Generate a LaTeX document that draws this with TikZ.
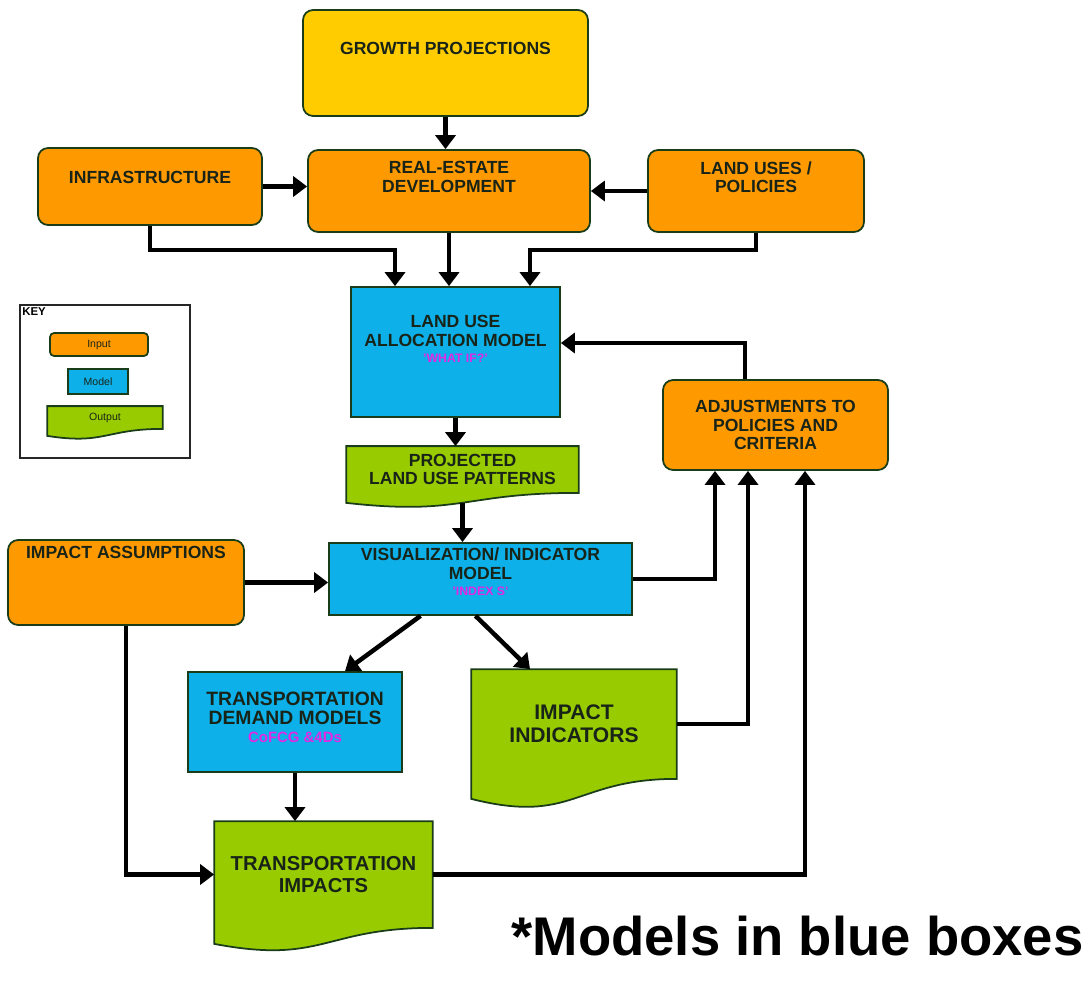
\documentclass[tikz,border=0pt]{standalone}
\usepackage{fontspec}
\setmainfont{Liberation Sans}
\usetikzlibrary{arrows.meta,backgrounds,calc}
\definecolor{GrowClr}{rgb}{1,0.8,0}
\definecolor{InputClr}{rgb}{1,0.6,0}
\definecolor{ModelClr}{rgb}{0.05,0.69,0.91}
\definecolor{OutputClr}{rgb}{0.6,0.8,0}
\definecolor{EdgeClr}{rgb}{0.1,0.24,0.1}
\definecolor{LabelClr}{rgb}{0.1,0.14,0.1}
\definecolor{NoteClr}{rgb}{0.9,0.15,0.9}

\newcommand{\DocShape}[2]{%
  \begin{scope}[on background layer]
    \filldraw[fill=OutputClr,draw=EdgeClr,line width=1pt]
      (#1.north west) -- (#1.north east) -- (#1.south east)
      .. controls (#1.south) and ($(#1.south)+(0pt,-2.3*#2)$) ..
      ($(#1.south west)+(0pt,-#2)$) -- cycle;
  \end{scope}}

\begin{document}
\begin{tikzpicture}[x=0.02cm,y=-0.02cm,
  box/.style={draw=EdgeClr,line width=1pt,text=LabelClr,align=center,inner sep=0pt,
    font=\bfseries\fontsize{10}{10.5}\selectfont},
  inbox/.style={box,fill=InputClr,rounded corners=0.2cm},
  modbox/.style={box,fill=ModelClr},
  outbox/.style={box,draw=none},
  lift/.style={text depth=#1},
  note/.style={text=NoteClr,font=\bfseries\fontsize{7}{8}\selectfont},
  keytext/.style={font=\fontsize{6}{7}\selectfont},
  arr/.style={-{Triangle[width=0.4cm,length=0.28cm]},line width=0.09cm,black}]
\useasboundingbox (0,0) rectangle (1091,986);

% inputs
\node[inbox,fill=GrowClr,minimum width=5.7cm,minimum height=2.12cm,lift=0.6cm] (grow) at (445.5,63) {GROWTH PROJECTIONS};
\node[inbox,minimum width=4.48cm,minimum height=1.54cm,lift=0.38cm] (infra) at (150,186.5) {INFRASTRUCTURE};
\node[inbox,minimum width=5.64cm,minimum height=1.64cm,lift=0.56cm] (reald) at (449,191) {REAL-ESTATE\\DEVELOPMENT};
\node[inbox,minimum width=4.32cm,minimum height=1.64cm,lift=0.56cm] (landuse) at (756,191) {LAND USES /\\POLICIES};
\node[inbox,minimum width=4.5cm,minimum height=1.8cm] (adjust) at (775.5,425) {ADJUSTMENTS TO\\POLICIES AND\\CRITERIA};
\node[inbox,minimum width=4.72cm,minimum height=1.7cm,lift=1.22cm] (impass) at (126,582.5) {IMPACT ASSUMPTIONS};

% models
\node[modbox,minimum width=4.18cm,minimum height=2.6cm,lift=0.52cm] (luam) at (455.5,352)
  {LAND USE\\ALLOCATION MODEL\\[-1pt]{\color{NoteClr}\fontsize{7}{8}\selectfont 'WHAT IF?'}};
\node[modbox,minimum width=6.06cm,minimum height=1.44cm,lift=0.28cm] (vim) at (480.5,579)
  {VISUALIZATION/ INDICATOR\\MODEL\\[-1pt]{\color{NoteClr}\fontsize{7}{8}\selectfont 'INDEX S'}};
\node[modbox,minimum width=4.28cm,minimum height=2cm,lift=0.2cm,font=\bfseries\fontsize{11}{11}\selectfont] (tdm) at (295,722)
  {TRANSPORTATION\\DEMAND MODELS\\[-1pt]{\color{NoteClr}\fontsize{8.5}{9}\selectfont CoFCG \&4Ds}};

% outputs
\node[outbox,minimum width=4.62cm,minimum height=0.9cm] (plup) at (462.5,469.5) {PROJECTED\\LAND USE PATTERNS};
\DocShape{plup}{0.2cm}
\node[outbox,minimum width=4.08cm,minimum height=2.16cm,font=\bfseries\fontsize{12}{13}\selectfont] (impind) at (574,724) {IMPACT\\INDICATORS};
\DocShape{impind}{0.4cm}
\node[outbox,minimum width=4.34cm,minimum height=2.1cm,font=\bfseries\fontsize{11.5}{12.5}\selectfont] (ti) at (323.5,874.5) {TRANSPORTATION\\IMPACTS};
\DocShape{ti}{0.32cm}

% key
\node[draw=black!85,line width=0.8pt,minimum width=3.4cm,minimum height=3.06cm,inner sep=0pt] (key) at (105,381.5) {};
\node[anchor=north west,inner sep=1.5pt,font=\bfseries\fontsize{6.5}{7}\selectfont] (keyname) at (key.north west) {KEY};
\node[inbox,rounded corners=0.08cm,keytext,minimum width=1.96cm,minimum height=0.46cm] (kin) at (99,344.5) {Input};
\node[modbox,keytext,minimum width=1.2cm,minimum height=0.5cm] (kmod) at (98,381.5) {Model};
\node[outbox,keytext,minimum width=2.28cm,minimum height=0.42cm] (kout) at (105,417.5) {Output};
\DocShape{kout}{0.14cm}

\node[anchor=base,inner sep=0pt,font=\bfseries\fontsize{31}{36}\selectfont] (remark) at (797.5,955) {*Models in blue boxes};

% connectors
\coordinate (jl) at (395,250);
\coordinate (jr) at (530,250);
\coordinate (ja) at (745,343);

\draw[arr] (grow) -- (grow |- reald.north);
\draw[arr] (infra) -- (infra -| reald.west);
\draw[arr] (landuse) -- (landuse -| reald.east);
\draw[arr] (infra) |- (jl) -- (jl |- luam.north);
\draw[arr] (reald) -- (reald |- luam.north);
\draw[arr] (landuse) |- (jr) -- (jr |- luam.north);
\draw[arr] (adjust.north -| ja) -- (ja) -- (ja -| luam.east);
\draw[arr] (luam) -- (luam |- plup.north);
\draw[arr] ([yshift=-0.2cm]plup.south) -- (plup.south |- vim.north);
\draw[arr] (impass) -- (impass -| vim.west);
\draw[arr] (vim) -| ([xshift=-1.21cm]adjust.south);
\draw[arr] ([xshift=-1.2cm]vim.south) -- ([xshift=1cm]tdm.north);
\draw[arr] ([xshift=-0.1cm]vim.south) -- ([xshift=-0.88cm]impind.north);
\draw[arr] (impind) -| ([xshift=-0.55cm]adjust.south);
\draw[arr] (tdm) -- (tdm |- ti.north);
\draw[arr] (impass) |- (ti);
\draw[arr] (ti) -| ([xshift=0.59cm]adjust.south);

\end{tikzpicture}
\end{document}
